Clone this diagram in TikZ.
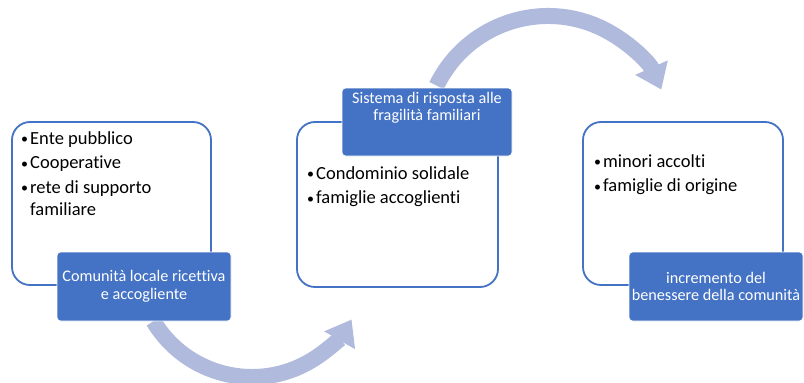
\documentclass[tikz,border=0pt]{standalone}
\usepackage{fontspec}
\setmainfont{Carlito}[Ligatures=NoCommon]
\usetikzlibrary{arrows.meta}
\definecolor{boxblue}{HTML}{4472C4}
\definecolor{labblue}{HTML}{4472C4}
\definecolor{arcblue}{HTML}{B0BADC}
\newcommand{\bul}{\makebox[9pt][l]{\raisebox{0.5pt}{\fontsize{14}{14}\selectfont•}}}
\newcommand{\ind}{\hspace*{9pt}}
\tikzset{
  box/.style={draw=boxblue, line width=1.8pt, rounded corners=18pt, fill=white, inner sep=0pt},
  lab/.style={fill=labblue, draw=white, line width=0.8pt, rounded corners=3.5pt, text=white,
    font=\fontsize{16.2}{17.5}\selectfont, align=center, inner sep=0pt},
  labtxt/.style={text=white, font=\fontsize{16.2}{17.5}\selectfont, align=center, inner sep=0pt},
  flow/.style={draw=arcblue, line width=16pt, -{Triangle[width=34pt,length=24pt]}},
  txt/.style={font=\fontsize{18.5}{22}\selectfont, align=left, anchor=north west, inner sep=0pt}
}
\begin{document}
\begin{tikzpicture}[x=1pt,y=-1pt]
\useasboundingbox (0,0) rectangle (804,383);
% flow arrows
\coordinate (c1) at (252,262);
\coordinate (c2) at (548,140);
\draw[flow] ([shift={(149:115)}]c1) arc[start angle=149, end angle=30, radius=115];
\draw[flow] ([shift={(206:124)}]c2) arc[start angle=206, end angle=336, radius=124];
% box 1
\node[box, minimum width=199pt, minimum height=163pt] (b1) at (111.5,203.5) {};
\node[txt] (t1) at (21,131) {\bul Ente pubblico\\[2.5pt]\bul Cooperative\\[2.5pt]\bul rete di supporto\\\ind familiare};
\node[lab, minimum width=174pt, minimum height=69pt] (l1) at (144,286.5) {Comunità locale ricettiva\\e accogliente};
% box 2
\node[box, minimum width=201pt, minimum height=165pt] (b2) at (397.5,204.5) {};
\node[txt] (t2) at (307,166) {\bul Condominio solidale\\[2.5pt]\bul famiglie accoglienti};
\node[lab, minimum width=170pt, minimum height=68pt] (l2) at (427,122) {};
\node[labtxt, anchor=north] (l2t) at ([yshift=-4pt]l2.north) {Sistema di risposta alle\\fragilità familiari};
% box 3
\node[box, minimum width=200pt, minimum height=163pt] (b3) at (683,203.5) {};
\node[txt] (t3) at (594,154) {\bul minori accolti\\[2.5pt]\bul famiglie di origine};
\node[lab, minimum width=174pt, minimum height=69pt] (l3) at (716,286.5) {incremento del\\benessere della comunità};
\end{tikzpicture}
\end{document}
